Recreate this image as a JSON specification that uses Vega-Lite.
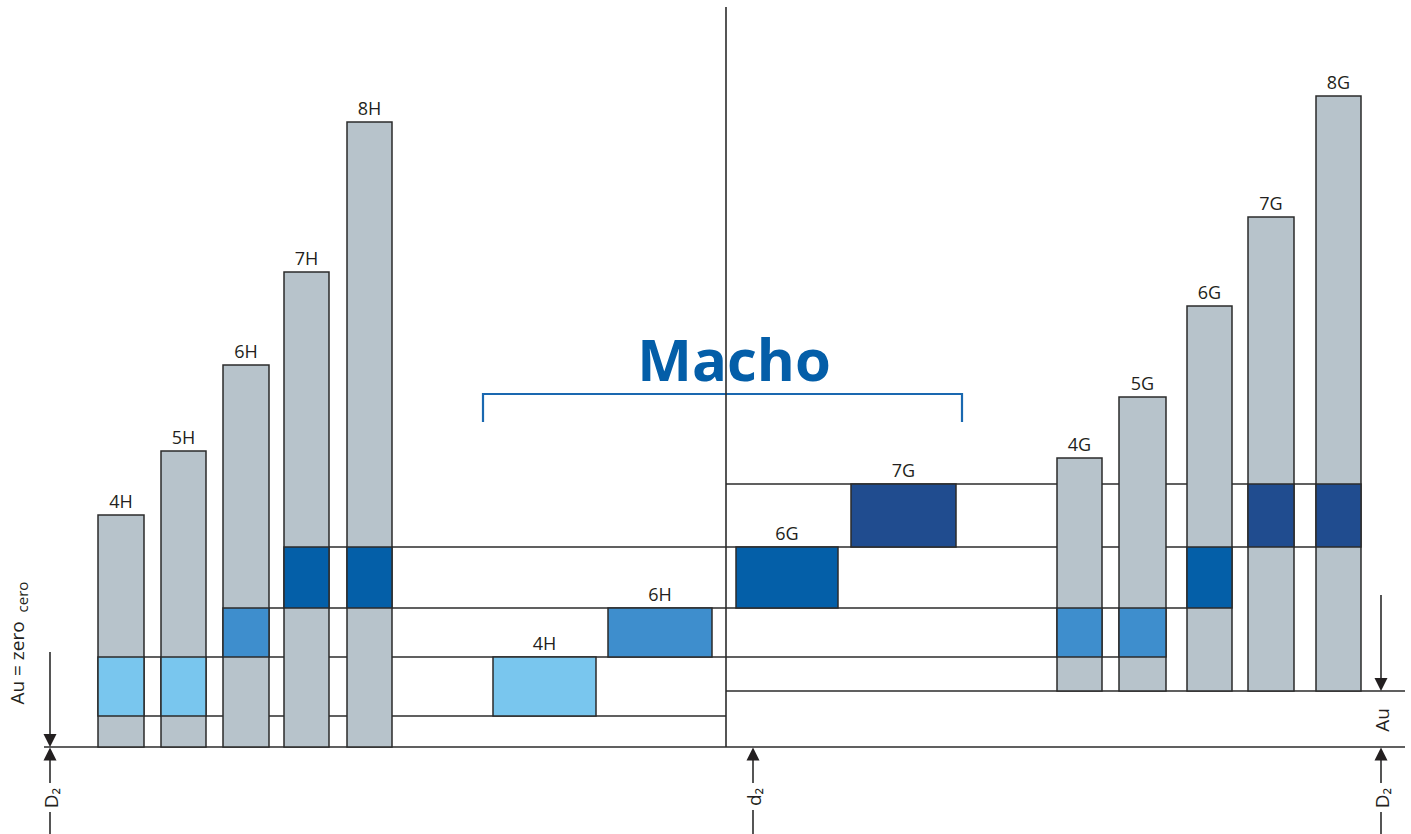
{
  "$schema": "https://vega.github.io/schema/vega-lite/v6.json",
  "width": 1411,
  "height": 834,
  "padding": 0,
  "autosize": "none",
  "background": "white",
  "config": {"view": {"stroke": null}},
  "datasets": {
    "lines": [
      {"x": 44, "x2": 1405, "y": 0, "y2": 0},
      {"x": 98, "x2": 726, "y": 31, "y2": 31},
      {"x": 98, "x2": 1166, "y": 90, "y2": 90},
      {"x": 223, "x2": 1232, "y": 139, "y2": 139},
      {"x": 284, "x2": 1361, "y": 200, "y2": 200},
      {"x": 726, "x2": 1361, "y": 263, "y2": 263},
      {"x": 726, "x2": 1405, "y": 56, "y2": 56},
      {"x": 50, "x2": 50, "y": 95, "y2": 13},
      {"x": 50, "x2": 50, "y": -13, "y2": -36},
      {"x": 50, "x2": 50, "y": -65, "y2": -87},
      {"x": 753, "x2": 753, "y": -13, "y2": -36},
      {"x": 753, "x2": 753, "y": -63, "y2": -87},
      {"x": 1381, "x2": 1381, "y": 152, "y2": 69},
      {"x": 1381, "x2": 1381, "y": -13, "y2": -36},
      {"x": 1381, "x2": 1381, "y": -65, "y2": -87}
    ],
    "bracket": [
      {"x": 483, "x2": 962, "y": 353, "y2": 353},
      {"x": 483, "x2": 483, "y": 354, "y2": 325},
      {"x": 962, "x2": 962, "y": 354, "y2": 325}
    ],
    "axisline": [
      {"x": 726, "x2": 726, "y": 0, "y2": 740}
    ],
    "bars": [
      {"n": "4H", "x": 98, "x2": 144, "y": 0, "y2": 232, "k": "g"},
      {"n": "5H", "x": 161, "x2": 206, "y": 0, "y2": 296, "k": "g"},
      {"n": "6H", "x": 223, "x2": 269, "y": 0, "y2": 382, "k": "g"},
      {"n": "7H", "x": 284, "x2": 329, "y": 0, "y2": 475, "k": "g"},
      {"n": "8H", "x": 347, "x2": 392, "y": 0, "y2": 625, "k": "g"},
      {"n": "4G", "x": 1057, "x2": 1102, "y": 56, "y2": 289, "k": "g"},
      {"n": "5G", "x": 1119, "x2": 1166, "y": 56, "y2": 350, "k": "g"},
      {"n": "6G", "x": 1187, "x2": 1232, "y": 56, "y2": 441, "k": "g"},
      {"n": "7G", "x": 1248, "x2": 1294, "y": 56, "y2": 530, "k": "g"},
      {"n": "8G", "x": 1316, "x2": 1361, "y": 56, "y2": 651, "k": "g"},
      {"n": "", "x": 98, "x2": 144, "y": 31, "y2": 90, "k": "c1"},
      {"n": "", "x": 161, "x2": 206, "y": 31, "y2": 90, "k": "c1"},
      {"n": "", "x": 223, "x2": 269, "y": 90, "y2": 139, "k": "c2"},
      {"n": "", "x": 284, "x2": 329, "y": 139, "y2": 200, "k": "c3"},
      {"n": "", "x": 347, "x2": 392, "y": 139, "y2": 200, "k": "c3"},
      {"n": "", "x": 1057, "x2": 1102, "y": 90, "y2": 139, "k": "c2"},
      {"n": "", "x": 1119, "x2": 1166, "y": 90, "y2": 139, "k": "c2"},
      {"n": "", "x": 1187, "x2": 1232, "y": 139, "y2": 200, "k": "c3"},
      {"n": "", "x": 1248, "x2": 1294, "y": 200, "y2": 263, "k": "c4"},
      {"n": "", "x": 1316, "x2": 1361, "y": 200, "y2": 263, "k": "c4"},
      {"n": "4H", "x": 493, "x2": 596, "y": 31, "y2": 90, "k": "c1"},
      {"n": "6H", "x": 608, "x2": 712, "y": 90, "y2": 139, "k": "c2"},
      {"n": "6G", "x": 736, "x2": 838, "y": 139, "y2": 200, "k": "c3"},
      {"n": "7G", "x": 851, "x2": 956, "y": 200, "y2": 263, "k": "c4"}
    ],
    "headsDown": [
      {"x": 50, "y": 6.5},
      {"x": 1381, "y": 62.5}
    ],
    "headsUp": [
      {"x": 50, "y": -7},
      {"x": 753, "y": -7},
      {"x": 1381, "y": -7}
    ],
    "notes": [
      {"t": "Au = zero", "x": 18, "y": 84},
      {"t": "Au", "x": 1383, "y": 27},
      {"t": "D₂", "x": 52, "y": -51},
      {"t": "d₂", "x": 755, "y": -50},
      {"t": "D₂", "x": 1383, "y": -51}
    ],
    "subnotes": [
      {"t": "cero", "x": 23, "y": 150}
    ],
    "title": [
      {"t": "Macho", "x": 734, "y": 366}
    ]
  },
  "layer": [
    {
      "data": {"name": "lines"},
      "mark": {"type": "rule", "color": "#2b2b2b", "strokeWidth": 1.6},
      "encoding": {
        "x": {"field": "x", "type": "quantitative", "scale": {"domain": [0, 1411], "nice": false, "zero": false}, "axis": null},
        "x2": {"field": "x2"},
        "y": {"field": "y", "type": "quantitative", "scale": {"domain": [-87, 747], "nice": false, "zero": false}, "axis": null},
        "y2": {"field": "y2"}
      }
    },
    {
      "data": {"name": "bracket"},
      "mark": {"type": "rule", "color": "#1a68b0", "strokeWidth": 2.2},
      "encoding": {
        "x": {"field": "x", "type": "quantitative", "scale": {"domain": [0, 1411], "nice": false, "zero": false}, "axis": null},
        "x2": {"field": "x2"},
        "y": {"field": "y", "type": "quantitative", "scale": {"domain": [-87, 747], "nice": false, "zero": false}, "axis": null},
        "y2": {"field": "y2"}
      }
    },
    {
      "data": {"name": "bars"},
      "mark": {"type": "rect", "stroke": "#2b2b2b", "strokeWidth": 1.5},
      "encoding": {
        "x": {"field": "x", "type": "quantitative", "scale": {"domain": [0, 1411], "nice": false, "zero": false}, "axis": null},
        "x2": {"field": "x2"},
        "y": {"field": "y", "type": "quantitative", "scale": {"domain": [-87, 747], "nice": false, "zero": false}, "axis": null},
        "y2": {"field": "y2"},
        "fill": {"field": "k", "type": "nominal", "legend": null, "scale": {"domain": ["g", "c1", "c2", "c3", "c4"], "range": ["#b7c3cb", "#79c6ee", "#3e8ecd", "#045fa8", "#204c8f"]}}
      }
    },
    {
      "data": {"name": "bars"},
      "transform": [{"filter": "datum.n != ''"}, {"calculate": "(datum.x + datum.x2) / 2", "as": "xm"}],
      "mark": {"type": "text", "font": "Open Sans", "fontSize": 18, "color": "#231f20", "align": "center", "baseline": "alphabetic", "dy": -7},
      "encoding": {
        "x": {"field": "xm", "type": "quantitative", "scale": {"domain": [0, 1411], "nice": false, "zero": false}, "axis": null},
        "y": {"field": "y2", "type": "quantitative", "scale": {"domain": [-87, 747], "nice": false, "zero": false}, "axis": null},
        "text": {"field": "n"}
      }
    },
    {
      "data": {"name": "title"},
      "mark": {"type": "text", "font": "Open Sans", "fontWeight": "bold", "fontSize": 58, "color": "#045ea8", "align": "center", "baseline": "alphabetic"},
      "encoding": {
        "x": {"field": "x", "type": "quantitative", "scale": {"domain": [0, 1411], "nice": false, "zero": false}, "axis": null},
        "y": {"field": "y", "type": "quantitative", "scale": {"domain": [-87, 747], "nice": false, "zero": false}, "axis": null},
        "text": {"field": "t"}
      }
    },
    {
      "data": {"name": "axisline"},
      "mark": {"type": "rule", "color": "#2b2b2b", "strokeWidth": 1.6},
      "encoding": {
        "x": {"field": "x", "type": "quantitative", "scale": {"domain": [0, 1411], "nice": false, "zero": false}, "axis": null},
        "x2": {"field": "x2"},
        "y": {"field": "y", "type": "quantitative", "scale": {"domain": [-87, 747], "nice": false, "zero": false}, "axis": null},
        "y2": {"field": "y2"}
      }
    },
    {
      "data": {"name": "headsDown"},
      "mark": {"type": "point", "shape": "M-1,-1L1,-1L0,1Z", "filled": true, "size": 169, "color": "#231f20", "opacity": 1},
      "encoding": {
        "x": {"field": "x", "type": "quantitative", "scale": {"domain": [0, 1411], "nice": false, "zero": false}, "axis": null},
        "y": {"field": "y", "type": "quantitative", "scale": {"domain": [-87, 747], "nice": false, "zero": false}, "axis": null}
      }
    },
    {
      "data": {"name": "headsUp"},
      "mark": {"type": "point", "shape": "M-1,1L1,1L0,-1Z", "filled": true, "size": 169, "color": "#231f20", "opacity": 1},
      "encoding": {
        "x": {"field": "x", "type": "quantitative", "scale": {"domain": [0, 1411], "nice": false, "zero": false}, "axis": null},
        "y": {"field": "y", "type": "quantitative", "scale": {"domain": [-87, 747], "nice": false, "zero": false}, "axis": null}
      }
    },
    {
      "data": {"name": "notes"},
      "mark": {"type": "text", "font": "Open Sans", "fontSize": 19, "color": "#231f20", "align": "center", "baseline": "middle", "angle": 270},
      "encoding": {
        "x": {"field": "x", "type": "quantitative", "scale": {"domain": [0, 1411], "nice": false, "zero": false}, "axis": null},
        "y": {"field": "y", "type": "quantitative", "scale": {"domain": [-87, 747], "nice": false, "zero": false}, "axis": null},
        "text": {"field": "t"}
      }
    },
    {
      "data": {"name": "subnotes"},
      "mark": {"type": "text", "font": "Open Sans", "fontSize": 15, "color": "#231f20", "align": "center", "baseline": "middle", "angle": 270},
      "encoding": {
        "x": {"field": "x", "type": "quantitative", "scale": {"domain": [0, 1411], "nice": false, "zero": false}, "axis": null},
        "y": {"field": "y", "type": "quantitative", "scale": {"domain": [-87, 747], "nice": false, "zero": false}, "axis": null},
        "text": {"field": "t"}
      }
    }
  ]
}
